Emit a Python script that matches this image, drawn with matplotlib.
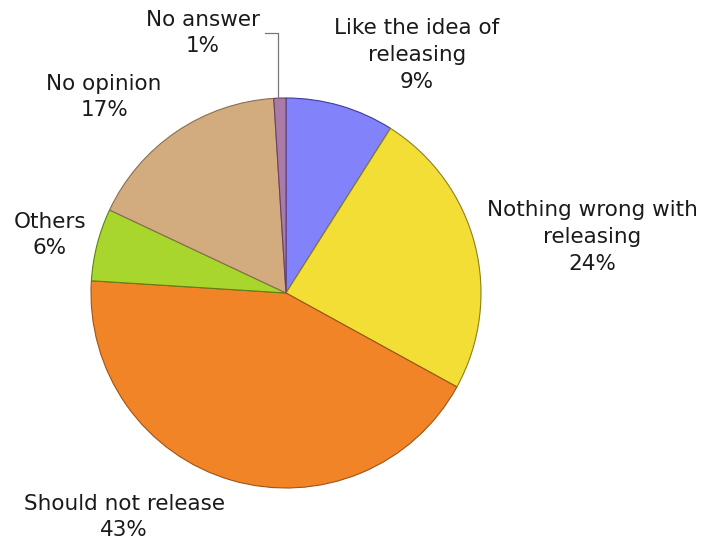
import numpy as np
import matplotlib
matplotlib.use("Agg")
import matplotlib.pyplot as plt

categories = ["Like the idea of\nreleasing", "Nothing wrong with\nreleasing",
              "Should not release", "Others", "No opinion", "No answer"]
shares = [9, 24, 43, 6, 17, 1]
colors = ["#8282FA", "#F2DE34", "#F28428", "#A8D62C", "#D2AC7E", "#A97BA6"]
edges = ["#3C3CA0", "#8C8020", "#9C5418", "#5E8018", "#8A6E4E", "#6A406A"]

# label centres in axes data units (pie radius = 1)
label_xy = [(0.672, 1.22), (1.57, 0.287), (-0.83, -1.149),
            (-1.21, 0.297), (-0.933, 1.005), (-0.426, 1.333)]

W, H = 704, 544
fig = plt.figure(figsize=(W / 100, H / 100), dpi=100)
cx, cy, r = 286, 293, 195
ax = fig.add_axes([(cx - r) / W, (H - cy - r) / H, 2 * r / W, 2 * r / H])

wedges, _ = ax.pie(shares, colors=colors, startangle=90, counterclock=False,
                   radius=1.0, wedgeprops=dict(linewidth=0.8))
for w, ec in zip(wedges, edges):
    w.set_edgecolor(ec)

for name, val, (x, y) in zip(categories, shares, label_xy):
    ax.text(x, y, f"{name}\n{val}%", ha="center", va="center", fontsize=15.5,
            color="#1a1a1a", linespacing=1.42, family="DejaVu Sans", clip_on=False)

# leader line for the smallest slice
w = wedges[-1]
mid = np.deg2rad((w.theta1 + w.theta2) / 2)
lx = np.cos(mid) - 0.01
ax.plot([lx, lx, -0.108], [np.sin(mid), 1.333, 1.333], color="#777777",
        linewidth=0.9, clip_on=False)

ax.set_xlim(-1, 1)
ax.set_ylim(-1, 1)
ax.set_aspect("equal")
ax.axis("off")
fig.savefig("out.png", dpi=100)
